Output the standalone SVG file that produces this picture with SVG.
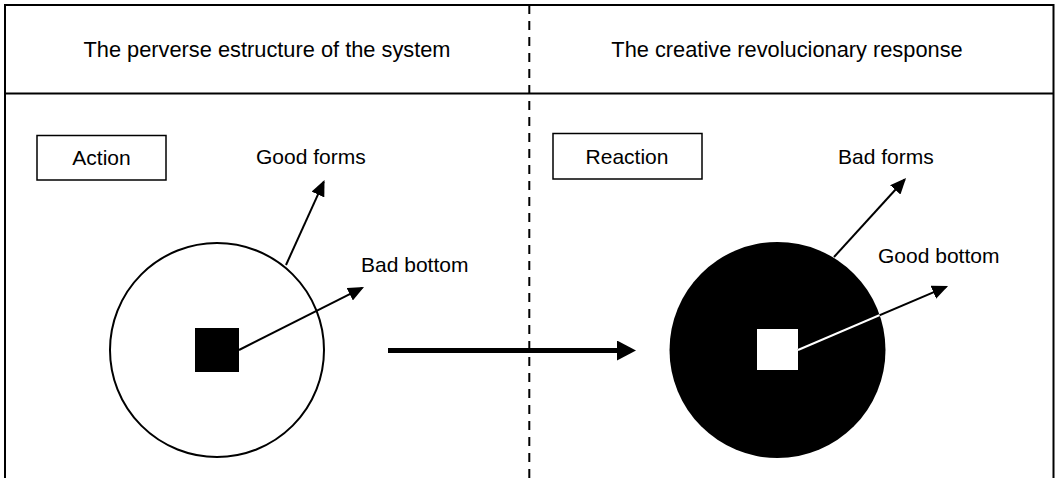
<svg xmlns="http://www.w3.org/2000/svg" width="1060" height="478" viewBox="0 0 1060 478">
<style>
text{font-family:"Liberation Sans",Arial,sans-serif;font-size:21px;fill:#000}
.hd{font-size:21.8px}
.frame{fill:none;stroke:#000;stroke-width:2}
.box{fill:#fff;stroke:#000;stroke-width:1.5}
.ln{stroke:#000;stroke-width:2;fill:none}
</style>
<defs>
<marker id="ah" viewBox="0 0 16 14" refX="14" refY="7" markerWidth="16" markerHeight="14" markerUnits="userSpaceOnUse" orient="auto">
<path d="M0,0 L16,7 L0,14 Z" fill="#000"/>
</marker>
<marker id="ahs" viewBox="0 0 19 20" refX="1" refY="10" markerWidth="19" markerHeight="20" markerUnits="userSpaceOnUse" orient="auto">
<path d="M0,0 L19,10 L0,20 Z" fill="#000"/>
</marker>
<clipPath id="cc"><circle cx="777.5" cy="350" r="108"/></clipPath>
</defs>
<rect width="1060" height="478" fill="#fff"/>
<g id="frame">
<path class="frame" d="M5,480 V5 H1053.5 V480"/>
<line class="frame" x1="5" y1="93.5" x2="1053.5" y2="93.5"/>
<line x1="529.3" y1="5" x2="529.3" y2="478" stroke="#000" stroke-width="2" stroke-dasharray="9,7"/>
</g>
<g id="header-left"><text class="hd" x="267" y="57" text-anchor="middle">The perverse estructure of the system</text></g>
<g id="header-right"><text class="hd" x="787" y="57" text-anchor="middle">The creative revolucionary response</text></g>
<g id="action">
<rect class="box" x="37" y="135.5" width="129" height="44.5"/>
<text x="101.5" y="165" text-anchor="middle">Action</text>
</g>
<g id="reaction">
<rect class="box" x="553" y="133.5" width="149" height="45.5"/>
<text x="627" y="164" text-anchor="middle">Reaction</text>
</g>
<g id="left-circle">
<circle cx="217" cy="350" r="107" fill="#fff" stroke="#000" stroke-width="2"/>
<rect x="195" y="328" width="44" height="44" fill="#000"/>
</g>
<g id="right-circle">
<circle cx="777.5" cy="350" r="108" fill="#000"/>
<rect x="757" y="329" width="41" height="41" fill="#fff"/>
</g>
<g id="labels">
<text x="256" y="164">Good forms</text>
<text x="361" y="272">Bad bottom</text>
<text x="838" y="164">Bad forms</text>
<text x="878" y="263">Good bottom</text>
</g>
<g id="connectors">
<line class="ln" x1="286" y1="265" x2="323.7" y2="181.8" marker-end="url(#ah)"/>
<line class="ln" x1="239" y1="350" x2="362.2" y2="287.9" marker-end="url(#ah)"/>
<line class="ln" x1="834" y1="257" x2="904.7" y2="179.5" marker-end="url(#ah)"/>
<line class="ln" x1="798" y1="350" x2="946.2" y2="286.8" marker-end="url(#ah)"/>
<line x1="798" y1="350" x2="946" y2="286.8" stroke="#fff" stroke-width="2" clip-path="url(#cc)"/>
<line x1="388" y1="350.5" x2="618" y2="350.5" stroke="#000" stroke-width="5" marker-end="url(#ahs)"/>
</g>
</svg>
